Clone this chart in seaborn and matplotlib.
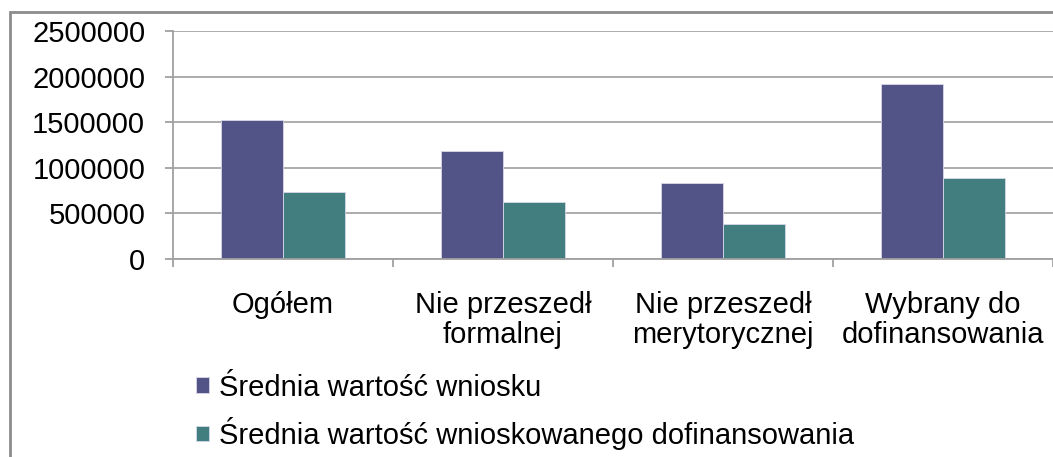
import matplotlib as mpl
mpl.use('Agg')
import matplotlib.pyplot as plt
from matplotlib.patches import Rectangle, Patch
import seaborn as sns
import pandas as pd

categories = ["Ogółem", "Nie przeszedł\nformalnej", "Nie przeszedł\nmerytorycznej", "Wybrany do\ndofinansowania"]
series_names = ["Średnia wartość wniosku", "Średnia wartość wnioskowanego dofinansowania"]
wartosc_wniosku = [1520000, 1185000, 833000, 1915000]
wartosc_dofinansowania = [731000, 621000, 381000, 885000]
colors = ["#525387", "#427E80"]

sns.set_theme(style="white")
plt.rcParams['font.family'] = ['Liberation Sans', 'DejaVu Sans']

df = pd.DataFrame({
    "kategoria": categories * 2,
    "seria": [series_names[0]] * 4 + [series_names[1]] * 4,
    "wartosc": wartosc_wniosku + wartosc_dofinansowania,
})

fig = plt.figure(figsize=(10.53, 4.57), dpi=100)
ax = fig.add_axes([173/1053, 198/457, 880/1053, 228/457])

sns.barplot(data=df, x="kategoria", y="wartosc", hue="seria", palette=colors, saturation=1,
            width=0.56, ax=ax, edgecolor="#d8d8e8", linewidth=0.6, legend=False)

ax.set_ylim(0, 2500000)
ax.set_xlim(-0.5, 3.5)
ax.set_yticks([0, 500000, 1000000, 1500000, 2000000, 2500000])
ax.set_yticklabels(["0", "500000", "1000000", "1500000", "2000000", "2500000"])
ax.set_xlabel("")
ax.set_ylabel("")

ax.grid(axis="y", color="#a6a6a6", linewidth=1.3)
ax.set_axisbelow(True)
for s in ["top", "right"]:
    ax.spines[s].set_visible(False)
ax.spines["left"].set_color("#a0a0a0")
ax.spines["bottom"].set_color("#a0a0a0")
ax.spines["left"].set_linewidth(1.3)
ax.spines["bottom"].set_linewidth(1.3)

ax.tick_params(axis="y", which="major", left=True, length=6, width=1.3, color="#a0a0a0",
               pad=14, labelsize=21, labelcolor="black")
ax.tick_params(axis="x", which="major", bottom=False, pad=17, labelsize=21, labelcolor="black")
for lbl in ax.get_xticklabels():
    lbl.set_linespacing(1.1)
ax.set_xticks([-0.5, 0.5, 1.5, 2.5, 3.5], minor=True)
ax.tick_params(axis="x", which="minor", bottom=True, length=6, width=1.3, color="#a0a0a0")

handles = [Patch(facecolor=c, edgecolor="#d8d8e8", linewidth=0.6) for c in colors]
fig.legend(handles, series_names, loc="upper left", bbox_to_anchor=(184/1053, 1 - 362/457),
           frameon=False, fontsize=21, labelcolor="black", handlelength=0.45, handleheight=0.45,
           handletextpad=0.35, labelspacing=0.52, borderaxespad=0)

# outer chart frame
fig.patches.append(Rectangle((10/1053, -0.05), 1.1, 1 - 12/457 + 0.05, transform=fig.transFigure,
                             fill=False, edgecolor="#8c8c8c", linewidth=2, clip_on=False))

fig.savefig("out.png", dpi=100)
